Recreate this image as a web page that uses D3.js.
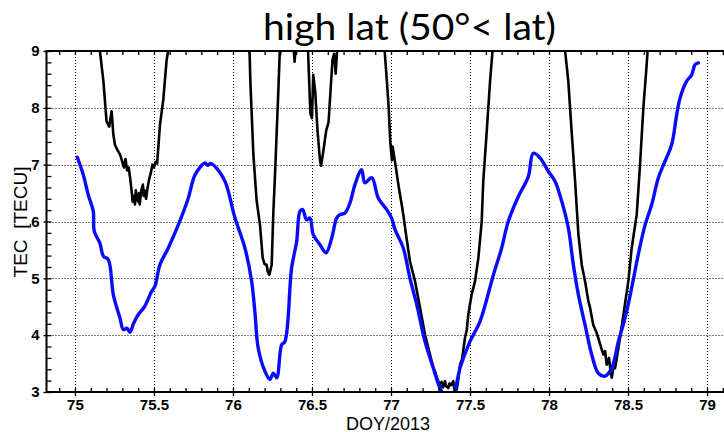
<!DOCTYPE html>
<html>
<head>
<meta charset="utf-8">
<script src="https://cdn.jsdelivr.net/npm/d3@7"></script>
<style>
  html, body { margin: 0; padding: 0; background: #fff; }
  svg { display: block; }
  .tl { font-family: 'Liberation Sans', Arial, sans-serif; font-size: 15px; font-weight: 700; fill: #000; }
  .al { font-family: 'Liberation Sans', Arial, sans-serif; fill: #000; white-space: pre; }
</style>
</head>
<body>
<svg id="chart" width="724" height="432"></svg>
<script>
// ---------- data ----------
const title = "high lat (50°< lat)";
const xLabel = "DOY/2013";
const yLabel = "TEC  [TECU]";

const xTickValues = [75, 75.5, 76, 76.5, 77, 77.5, 78, 78.5, 79];
const xTickLabels = ["75", "75.5", "76", "76.5", "77", "77.5", "78", "78.5", "79"];
const yTickValues = [3, 4, 5, 6, 7, 8, 9];
const yTickLabels = ["3", "4", "5", "6", "7", "8", "9"];

// blue series (DOY, TEC)
const blueDoy = [75.015,75.053,75.084,75.116,75.122,75.158,75.18,75.211,75.243,75.285,75.306,75.33,75.348,75.37,75.40,75.44,75.485,75.506,75.538,75.59,75.654,75.717,75.76,75.823,75.84,75.86,75.886,75.949,76.013,76.076,76.118,76.139,76.16,76.203,76.234,76.255,76.277,76.308,76.329,76.371,76.403,76.424,76.441,76.466,76.487,76.508,76.551,76.589,76.625,76.656,76.677,76.709,76.741,76.772,76.814,76.835,76.878,76.92,76.973,77.004,77.025,77.078,77.12,77.163,77.215,77.268,77.31,77.35,77.38,77.405,77.437,77.5,77.563,77.648,77.70,77.742,77.806,77.869,77.90,77.943,77.996,78.038,78.08,78.122,78.154,78.186,78.228,78.27,78.312,78.354,78.397,78.439,78.481,78.523,78.565,78.608,78.65,78.692,78.734,78.776,78.808,78.829,78.871,78.903,78.924,78.945];
const blueTec = [7.13,6.82,6.47,6.18,5.83,5.62,5.39,5.33,4.71,4.30,4.10,4.12,4.05,4.20,4.36,4.50,4.77,4.86,5.24,5.53,5.94,6.41,6.82,7.03,6.99,7.02,6.97,6.71,6.06,5.53,4.95,4.40,3.77,3.36,3.22,3.33,3.25,3.83,3.89,5.18,5.65,6.18,6.21,6.03,6.06,5.77,5.59,5.45,5.71,6.06,6.12,6.15,6.33,6.65,6.91,6.68,6.77,6.41,6.21,6.06,5.86,5.53,5.00,4.54,3.89,3.42,3.07,2.90,2.90,3.04,3.42,3.89,4.24,5.06,5.53,6.00,6.44,6.79,7.20,7.12,6.88,6.71,6.36,5.89,5.24,4.71,4.18,3.66,3.33,3.28,3.42,3.89,4.30,4.83,5.42,5.94,6.30,6.77,7.06,7.35,7.88,8.17,8.47,8.58,8.76,8.79];

// black series (DOY, TEC) – values above 9 run off the top of the plot
const blackDoy = [75.10,75.158,75.18,75.20,75.217,75.232,75.243,75.253,75.27,75.285,75.30,75.31,75.32,75.33,75.34,75.35,75.36,75.365,75.37,75.38,75.385,75.39,75.40,75.405,75.41,75.42,75.43,75.435,75.44,75.45,75.46,75.47,75.48,75.49,75.50,75.51,75.52,75.538,75.559,75.58,75.59,75.62,76.05,76.105,76.11,76.129,76.15,76.171,76.188,76.20,76.213,76.22,76.23,76.24,76.245,76.255,76.266,76.277,76.287,76.297,76.33,76.385,76.39,76.395,76.43,76.475,76.49,76.50,76.508,76.52,76.535,76.55,76.557,76.57,76.59,76.605,76.615,76.63,76.64,76.65,76.66,76.75,76.95,76.96,76.975,76.985,76.996,77.006,77.01,77.027,77.049,77.07,77.078,77.089,77.12,77.152,77.184,77.215,77.247,77.268,77.28,77.29,77.30,77.31,77.32,77.33,77.342,77.35,77.363,77.37,77.38,77.394,77.40,77.416,77.425,77.437,77.45,77.468,77.48,77.489,77.51,77.532,77.553,77.574,77.584,77.606,77.627,77.644,77.70,78.05,78.10,78.122,78.143,78.165,78.186,78.207,78.228,78.249,78.26,78.28,78.30,78.312,78.33,78.344,78.355,78.365,78.38,78.39,78.397,78.405,78.418,78.43,78.449,78.481,78.502,78.523,78.555,78.576,78.597,78.618,78.625,78.65];
const blackTec = [10.5,9.0,8.47,7.76,7.67,7.94,7.53,7.35,7.25,7.18,7.05,6.95,7.10,6.90,6.95,6.75,6.50,6.35,6.45,6.30,6.55,6.45,6.35,6.50,6.30,6.55,6.65,6.45,6.55,6.40,6.60,6.75,6.85,7.00,6.95,7.05,7.02,7.70,8.14,8.84,9.0,10.5,10.5,9.0,8.47,7.18,6.36,5.94,5.36,5.25,5.24,5.12,5.06,5.18,5.24,6.12,6.82,7.59,8.29,9.05,10.0,9.0,8.81,9.0,10.0,9.0,7.90,7.82,8.58,8.30,7.60,7.10,6.98,7.20,7.60,7.75,8.20,8.85,8.95,8.60,9.05,10.5,10.0,9.0,8.43,8.02,7.38,7.08,7.32,7.02,6.61,6.26,6.12,5.89,5.30,4.95,4.48,4.01,3.66,3.42,3.35,3.25,3.19,3.05,3.18,3.08,3.19,3.10,3.07,3.15,3.12,3.19,3.06,3.04,3.20,3.48,3.58,3.95,4.10,4.36,4.71,4.95,5.36,6.00,6.71,7.59,8.47,9.05,10.5,10.5,9.05,8.47,7.59,6.71,5.77,5.24,4.95,4.60,4.48,4.18,4.05,3.95,3.78,3.66,3.72,3.48,3.60,3.35,3.25,3.40,3.42,3.62,3.95,4.55,4.95,5.53,6.12,7.00,8.00,8.76,9.05,10.5];

// ---------- layout ----------
const svg = d3.select("#chart");
const pL = 46.5, pR = 726, pT = 51, pB = 392;

const x = d3.scaleLinear().domain([74.82, 79.12]).range([pL, pR]);
const y = d3.scaleLinear().domain([3, 9]).range([pB, pT]);

const xMinor = d3.range(748, 792).map(d => d / 10).filter(v => v > 74.82 && v < 79.12);
const yMinor = d3.range(15, 46).map(d => d / 5).filter(v => v >= 3 && v <= 9);

svg.append("defs").append("clipPath").attr("id", "clip")
  .append("rect").attr("x", pL).attr("y", pT)
  .attr("width", pR - pL).attr("height", pB - pT);

// grid (dotted)
const grid = svg.append("g").attr("stroke", "#000").attr("stroke-width", 1)
  .attr("stroke-dasharray", "1,2");
grid.selectAll(".gx").data(xTickValues).join("line")
  .attr("x1", d => Math.round(x(d)) + 0.5).attr("x2", d => Math.round(x(d)) + 0.5)
  .attr("y1", pT).attr("y2", pB);
grid.selectAll(".gy").data(yTickValues.filter(v => v > 3 && v < 9)).join("line")
  .attr("y1", d => Math.round(y(d)) + 0.5).attr("y2", d => Math.round(y(d)) + 0.5)
  .attr("x1", pL).attr("x2", pR);

// lines
const line = d3.line().x(d => x(d[0])).y(d => y(d[1]));
const blackPts = blackDoy.map((d, i) => [d, blackTec[i]]);
const bluePts = blueDoy.map((d, i) => [d, blueTec[i]]);

const plot = svg.append("g").attr("clip-path", "url(#clip)");
plot.append("path").datum(blackPts).attr("d", line)
  .attr("fill", "none").attr("stroke", "#000").attr("stroke-width", 2.6)
  .attr("stroke-linejoin", "round");
plot.append("path").datum(bluePts).attr("d", d3.line().curve(d3.curveCatmullRom.alpha(0.5)).x(d => x(d[0])).y(d => y(d[1])))
  .attr("fill", "none").attr("stroke", "#0a0aff").attr("stroke-width", 3.4)
  .attr("stroke-linejoin", "round").attr("stroke-linecap", "round");

// axes
const xAxis = d3.axisBottom(x).tickValues(xTickValues)
  .tickFormat((d, i) => xTickLabels[i]).tickSizeInner(4).tickSizeOuter(0).tickPadding(3);
const gx = svg.append("g").attr("transform", `translate(0,${pB})`).call(xAxis);
gx.selectAll("text").attr("class", "tl");
gx.attr("font-size", null).attr("font-family", null);
gx.select(".domain").remove();

const xAxisMinor = d3.axisBottom(x).tickValues(xMinor).tickFormat("").tickSizeInner(-4).tickSizeOuter(0);
svg.append("g").attr("transform", `translate(0,${pB})`).call(xAxisMinor).select(".domain").remove();
const xAxisTop = d3.axisTop(x).tickValues(xMinor).tickFormat("").tickSizeInner(-4).tickSizeOuter(0);
svg.append("g").attr("transform", `translate(0,${pT})`).call(xAxisTop).select(".domain").remove();

const yAxis = d3.axisLeft(y).tickValues(yTickValues)
  .tickFormat((d, i) => yTickLabels[i]).tickSizeInner(3).tickSizeOuter(0).tickPadding(4);
const gy = svg.append("g").attr("transform", `translate(${pL},0)`).call(yAxis);
gy.attr("font-size", null).attr("font-family", null);
gy.selectAll("text").attr("class", "tl");
gy.select(".domain").remove();
const yAxisMinor = d3.axisLeft(y).tickValues(yMinor).tickFormat("").tickSizeInner(-5).tickSizeOuter(0);
svg.append("g").attr("transform", `translate(${pL},0)`).call(yAxisMinor).select(".domain").remove();

svg.selectAll(".tick line").attr("stroke", "#000").attr("stroke-width", 1.3);

// frame
svg.append("line").attr("x1", pL).attr("x2", pR).attr("y1", pB).attr("y2", pB)
  .attr("stroke", "#000").attr("stroke-width", 2);
svg.append("line").attr("x1", pL).attr("x2", pR).attr("y1", pT).attr("y2", pT)
  .attr("stroke", "#000").attr("stroke-width", 2);
svg.append("line").attr("x1", pL).attr("x2", pL).attr("y1", pT - 1).attr("y2", pB + 1)
  .attr("stroke", "#000").attr("stroke-width", 2);

// labels
svg.append("text").attr("class", "al").attr("x", 388).attr("y", 429.5).attr("text-anchor", "middle")
  .style("font-size", "18px").text(xLabel);
svg.append("text").attr("class", "al").attr("transform", "translate(27,222) rotate(-90)").attr("text-anchor", "middle")
  .style("font-size", "19px").text(yLabel);

// title
svg.append("text").attr("x", 263).attr("y", 40)
  .attr("font-family", "Lato, 'Open Sans', sans-serif").attr("font-size", 37)
  .attr("textLength", 293).attr("lengthAdjust", "spacingAndGlyphs")
  .text(title);
</script>
</body>
</html>
